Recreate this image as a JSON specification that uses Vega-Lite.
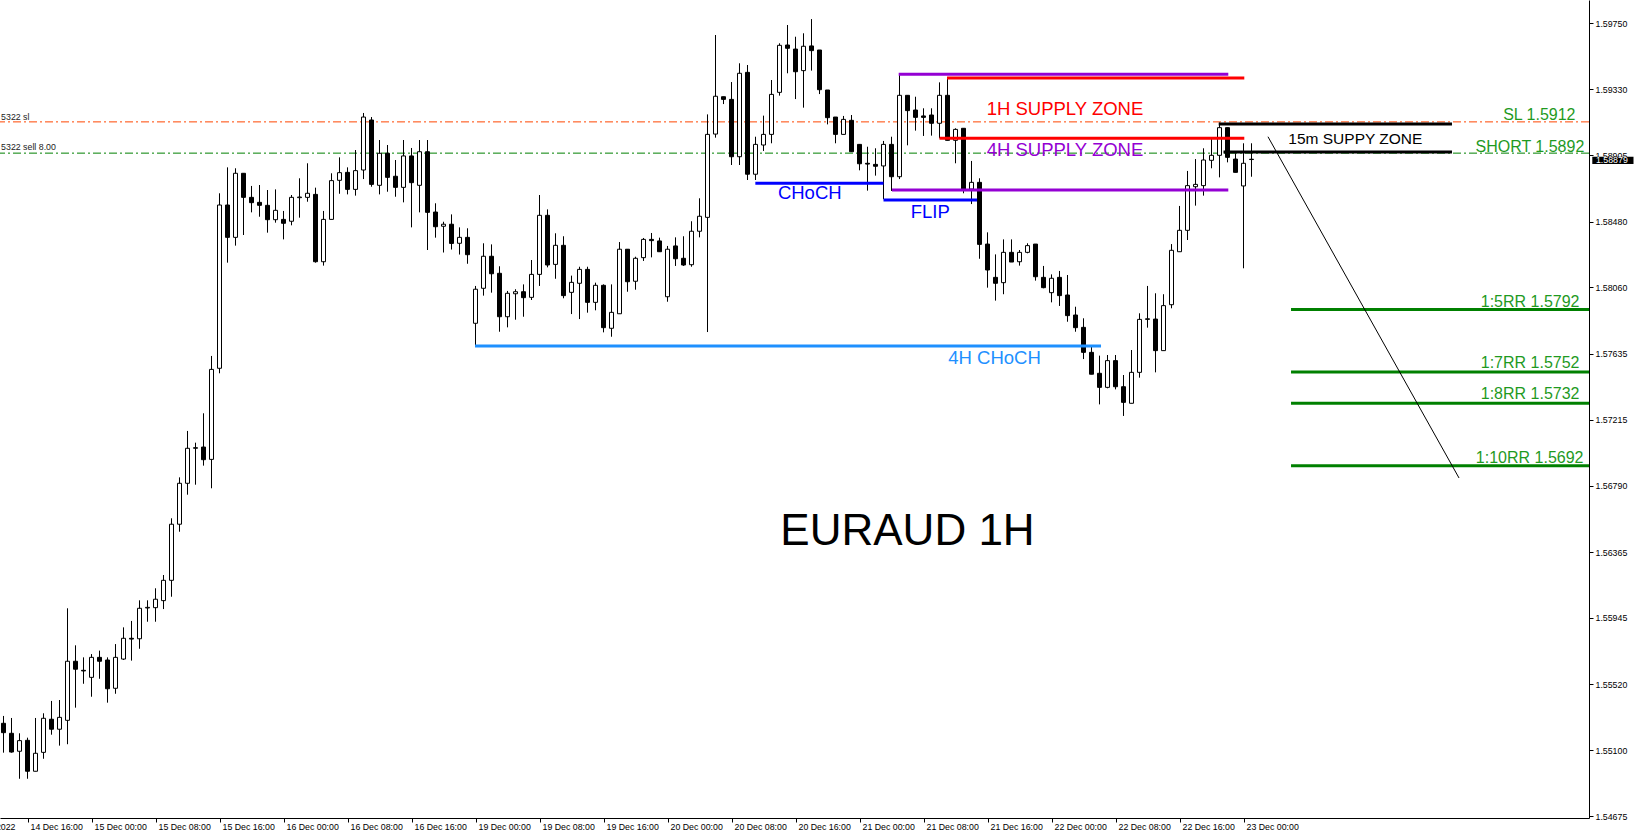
{
  "$schema": "https://vega.github.io/schema/vega-lite/v6.json",
  "width": 1589,
  "height": 818,
  "autosize": {"type": "none"},
  "padding": {"left": 0, "top": 0, "right": 47, "bottom": 21},
  "background": "white",
  "config": {"view": {"stroke": null}, "axis": {"grid": false}},
  "datasets": {
    "candles": [
      {"i":-3,"o":1.55271,"h":1.55318,"l":1.55083,"c":1.55211},
      {"i":-2,"o":1.55207,"h":1.55305,"l":1.55083,"c":1.55087},
      {"i":-1,"o":1.55092,"h":1.55207,"l":1.54916,"c":1.55160},
      {"i":0,"o":1.55162,"h":1.55179,"l":1.54916,"c":1.54964},
      {"i":1,"o":1.54964,"h":1.55305,"l":1.54964,"c":1.55079},
      {"i":2,"o":1.55085,"h":1.55335,"l":1.55044,"c":1.55303},
      {"i":3,"o":1.55297,"h":1.55414,"l":1.55198,"c":1.55233},
      {"i":4,"o":1.55233,"h":1.55420,"l":1.55128,"c":1.55309},
      {"i":5,"o":1.55290,"h":1.56007,"l":1.55137,"c":1.55668},
      {"i":6,"o":1.55668,"h":1.55770,"l":1.55371,"c":1.55617},
      {"i":7,"o":1.55610,"h":1.55693,"l":1.55524,"c":1.55606},
      {"i":8,"o":1.55565,"h":1.55714,"l":1.55441,"c":1.55693},
      {"i":9,"o":1.55693,"h":1.55736,"l":1.55556,"c":1.55668},
      {"i":10,"o":1.55676,"h":1.55693,"l":1.55403,"c":1.55492},
      {"i":11,"o":1.55495,"h":1.55778,"l":1.55460,"c":1.55693},
      {"i":12,"o":1.55682,"h":1.55885,"l":1.55676,"c":1.55815},
      {"i":13,"o":1.55815,"h":1.55926,"l":1.55672,"c":1.55810},
      {"i":14,"o":1.55812,"h":1.56058,"l":1.55748,"c":1.56007},
      {"i":15,"o":1.56009,"h":1.56058,"l":1.55921,"c":1.56013},
      {"i":16,"o":1.56011,"h":1.56135,"l":1.55921,"c":1.56065},
      {"i":17,"o":1.56056,"h":1.56220,"l":1.56002,"c":1.56186},
      {"i":18,"o":1.56186,"h":1.56583,"l":1.56081,"c":1.56545},
      {"i":19,"o":1.56545,"h":1.56845,"l":1.56497,"c":1.56807},
      {"i":20,"o":1.56807,"h":1.57142,"l":1.56734,"c":1.57031},
      {"i":21,"o":1.57031,"h":1.57067,"l":1.56798,"c":1.57035},
      {"i":22,"o":1.57039,"h":1.57255,"l":1.56920,"c":1.56958},
      {"i":23,"o":1.56960,"h":1.57622,"l":1.56775,"c":1.57536},
      {"i":24,"o":1.57543,"h":1.58663,"l":1.57511,"c":1.58588},
      {"i":25,"o":1.58588,"h":1.58829,"l":1.58219,"c":1.58381},
      {"i":26,"o":1.58381,"h":1.58823,"l":1.58328,"c":1.58791},
      {"i":27,"o":1.58791,"h":1.58791,"l":1.58396,"c":1.58637},
      {"i":28,"o":1.58637,"h":1.58710,"l":1.58541,"c":1.58603},
      {"i":29,"o":1.58605,"h":1.58716,"l":1.58513,"c":1.58586},
      {"i":30,"o":1.58586,"h":1.58684,"l":1.58411,"c":1.58494},
      {"i":31,"o":1.58494,"h":1.58688,"l":1.58475,"c":1.58554},
      {"i":32,"o":1.58496,"h":1.58550,"l":1.58368,"c":1.58471},
      {"i":33,"o":1.58484,"h":1.58652,"l":1.58458,"c":1.58637},
      {"i":34,"o":1.58635,"h":1.58759,"l":1.58507,"c":1.58639},
      {"i":35,"o":1.58637,"h":1.58855,"l":1.58609,"c":1.58663},
      {"i":36,"o":1.58656,"h":1.58699,"l":1.58219,"c":1.58225},
      {"i":37,"o":1.58225,"h":1.58550,"l":1.58200,"c":1.58496},
      {"i":38,"o":1.58496,"h":1.58791,"l":1.58496,"c":1.58744},
      {"i":39,"o":1.58746,"h":1.58893,"l":1.58660,"c":1.58795},
      {"i":40,"o":1.58797,"h":1.58829,"l":1.58656,"c":1.58688},
      {"i":41,"o":1.58688,"h":1.58940,"l":1.58648,"c":1.58808},
      {"i":42,"o":1.58812,"h":1.59177,"l":1.58754,"c":1.59151},
      {"i":43,"o":1.59132,"h":1.59151,"l":1.58705,"c":1.58720},
      {"i":44,"o":1.58714,"h":1.59004,"l":1.58656,"c":1.58919},
      {"i":45,"o":1.58919,"h":1.58972,"l":1.58673,"c":1.58765},
      {"i":46,"o":1.58772,"h":1.58876,"l":1.58641,"c":1.58701},
      {"i":47,"o":1.58701,"h":1.59004,"l":1.58605,"c":1.58902},
      {"i":48,"o":1.58902,"h":1.58953,"l":1.58445,"c":1.58731},
      {"i":49,"o":1.58714,"h":1.59004,"l":1.58541,"c":1.58929},
      {"i":50,"o":1.58929,"h":1.59004,"l":1.58300,"c":1.58541},
      {"i":51,"o":1.58543,"h":1.58599,"l":1.58379,"c":1.58449},
      {"i":52,"o":1.58452,"h":1.58481,"l":1.58284,"c":1.58465},
      {"i":53,"o":1.58465,"h":1.58528,"l":1.58303,"c":1.58342},
      {"i":54,"o":1.58343,"h":1.58445,"l":1.58271,"c":1.58381},
      {"i":55,"o":1.58381,"h":1.58439,"l":1.58212,"c":1.58270},
      {"i":56,"o":1.57831,"h":1.58070,"l":1.57681,"c":1.58049},
      {"i":57,"o":1.58055,"h":1.58343,"l":1.58008,"c":1.58260},
      {"i":58,"o":1.58260,"h":1.58336,"l":1.58027,"c":1.58148},
      {"i":59,"o":1.58151,"h":1.58196,"l":1.57777,"c":1.57873},
      {"i":60,"o":1.57873,"h":1.58038,"l":1.57805,"c":1.58023},
      {"i":61,"o":1.58020,"h":1.58049,"l":1.57854,"c":1.58033},
      {"i":62,"o":1.58033,"h":1.58080,"l":1.57873,"c":1.57995},
      {"i":63,"o":1.57997,"h":1.58236,"l":1.57980,"c":1.58144},
      {"i":64,"o":1.58144,"h":1.58652,"l":1.58070,"c":1.58522},
      {"i":65,"o":1.58522,"h":1.58560,"l":1.58189,"c":1.58204},
      {"i":66,"o":1.58208,"h":1.58407,"l":1.58116,"c":1.58330},
      {"i":67,"o":1.58330,"h":1.58388,"l":1.57991,"c":1.58008},
      {"i":68,"o":1.58029,"h":1.58136,"l":1.57890,"c":1.58093},
      {"i":69,"o":1.58087,"h":1.58193,"l":1.57858,"c":1.58176},
      {"i":70,"o":1.58176,"h":1.58193,"l":1.57899,"c":1.57965},
      {"i":71,"o":1.57965,"h":1.58091,"l":1.57914,"c":1.58074},
      {"i":72,"o":1.58074,"h":1.58080,"l":1.57773,"c":1.57803},
      {"i":73,"o":1.57799,"h":1.58080,"l":1.57745,"c":1.57901},
      {"i":74,"o":1.57892,"h":1.58351,"l":1.57892,"c":1.58305},
      {"i":75,"o":1.58305,"h":1.58305,"l":1.58033,"c":1.58097},
      {"i":76,"o":1.58100,"h":1.58257,"l":1.58046,"c":1.58247},
      {"i":77,"o":1.58251,"h":1.58377,"l":1.58230,"c":1.58368},
      {"i":78,"o":1.58368,"h":1.58409,"l":1.58253,"c":1.58360},
      {"i":79,"o":1.58358,"h":1.58379,"l":1.58289,"c":1.58289},
      {"i":80,"o":1.58001,"h":1.58326,"l":1.57969,"c":1.58305},
      {"i":81,"o":1.58326,"h":1.58381,"l":1.58198,"c":1.58244},
      {"i":82,"o":1.58247,"h":1.58388,"l":1.58198,"c":1.58204},
      {"i":83,"o":1.58206,"h":1.58484,"l":1.58193,"c":1.58420},
      {"i":84,"o":1.58420,"h":1.58631,"l":1.58381,"c":1.58516},
      {"i":85,"o":1.58509,"h":1.59168,"l":1.57775,"c":1.59040},
      {"i":86,"o":1.59042,"h":1.59676,"l":1.59019,"c":1.59284},
      {"i":87,"o":1.59281,"h":1.59281,"l":1.59234,"c":1.59264},
      {"i":88,"o":1.59264,"h":1.59375,"l":1.58844,"c":1.58897},
      {"i":89,"o":1.58897,"h":1.59495,"l":1.58844,"c":1.59431},
      {"i":90,"o":1.59437,"h":1.59484,"l":1.58748,"c":1.58785},
      {"i":91,"o":1.58785,"h":1.59025,"l":1.58748,"c":1.58976},
      {"i":92,"o":1.58972,"h":1.59160,"l":1.58934,"c":1.59040},
      {"i":93,"o":1.59040,"h":1.59388,"l":1.58983,"c":1.59296},
      {"i":94,"o":1.59309,"h":1.59623,"l":1.59288,"c":1.59610},
      {"i":95,"o":1.59612,"h":1.59740,"l":1.59431,"c":1.59591},
      {"i":96,"o":1.59586,"h":1.59665,"l":1.59266,"c":1.59441},
      {"i":97,"o":1.59448,"h":1.59687,"l":1.59211,"c":1.59604},
      {"i":98,"o":1.59606,"h":1.59778,"l":1.59448,"c":1.59576},
      {"i":99,"o":1.59580,"h":1.59580,"l":1.59298,"c":1.59326},
      {"i":100,"o":1.59324,"h":1.59324,"l":1.59104,"c":1.59147},
      {"i":101,"o":1.59151,"h":1.59151,"l":1.58983,"c":1.59040},
      {"i":102,"o":1.59040,"h":1.59158,"l":1.59040,"c":1.59136},
      {"i":103,"o":1.59130,"h":1.59164,"l":1.58929,"c":1.58929},
      {"i":104,"o":1.58976,"h":1.58976,"l":1.58810,"c":1.58852},
      {"i":105,"o":1.58855,"h":1.58961,"l":1.58680,"c":1.58850},
      {"i":106,"o":1.58848,"h":1.58951,"l":1.58776,"c":1.58836},
      {"i":107,"o":1.58838,"h":1.58998,"l":1.58625,"c":1.58976},
      {"i":108,"o":1.58976,"h":1.59025,"l":1.58678,"c":1.58769},
      {"i":109,"o":1.58769,"h":1.59425,"l":1.58754,"c":1.59290},
      {"i":110,"o":1.59290,"h":1.59290,"l":1.58970,"c":1.59192},
      {"i":111,"o":1.59196,"h":1.59281,"l":1.59064,"c":1.59149},
      {"i":112,"o":1.59158,"h":1.59207,"l":1.59030,"c":1.59149},
      {"i":113,"o":1.59164,"h":1.59207,"l":1.59032,"c":1.59111},
      {"i":114,"o":1.59111,"h":1.59373,"l":1.59015,"c":1.59290},
      {"i":115,"o":1.59290,"h":1.59403,"l":1.59002,"c":1.59002},
      {"i":116,"o":1.59002,"h":1.59079,"l":1.58855,"c":1.59072},
      {"i":117,"o":1.59079,"h":1.59079,"l":1.58663,"c":1.58690},
      {"i":118,"o":1.58690,"h":1.58870,"l":1.58594,"c":1.58733},
      {"i":119,"o":1.58733,"h":1.58759,"l":1.58244,"c":1.58336},
      {"i":120,"o":1.58338,"h":1.58413,"l":1.58059,"c":1.58172},
      {"i":121,"o":1.58125,"h":1.58272,"l":1.57976,"c":1.58087},
      {"i":122,"o":1.58091,"h":1.58368,"l":1.58017,"c":1.58285},
      {"i":123,"o":1.58285,"h":1.58368,"l":1.58223,"c":1.58223},
      {"i":124,"o":1.58225,"h":1.58300,"l":1.58200,"c":1.58285},
      {"i":125,"o":1.58285,"h":1.58343,"l":1.58279,"c":1.58328},
      {"i":126,"o":1.58338,"h":1.58338,"l":1.58104,"c":1.58129},
      {"i":127,"o":1.58125,"h":1.58198,"l":1.58055,"c":1.58059},
      {"i":128,"o":1.58027,"h":1.58144,"l":1.57965,"c":1.58119},
      {"i":129,"o":1.58125,"h":1.58166,"l":1.57942,"c":1.58008},
      {"i":130,"o":1.58012,"h":1.58140,"l":1.57841,"c":1.57880},
      {"i":131,"o":1.57884,"h":1.57937,"l":1.57777,"c":1.57803},
      {"i":132,"o":1.57805,"h":1.57863,"l":1.57602,"c":1.57645},
      {"i":133,"o":1.57645,"h":1.57688,"l":1.57505,"c":1.57505},
      {"i":134,"o":1.57511,"h":1.57624,"l":1.57312,"c":1.57421},
      {"i":135,"o":1.57421,"h":1.57628,"l":1.57415,"c":1.57592},
      {"i":136,"o":1.57592,"h":1.57628,"l":1.57408,"c":1.57425},
      {"i":137,"o":1.57425,"h":1.57500,"l":1.57238,"c":1.57325},
      {"i":138,"o":1.57319,"h":1.57660,"l":1.57319,"c":1.57517},
      {"i":139,"o":1.57517,"h":1.57895,"l":1.57483,"c":1.57856},
      {"i":140,"o":1.57856,"h":1.58070,"l":1.57803,"c":1.57860},
      {"i":141,"o":1.57858,"h":1.58023,"l":1.57517,"c":1.57656},
      {"i":142,"o":1.57656,"h":1.58017,"l":1.57656,"c":1.57944},
      {"i":143,"o":1.57950,"h":1.58338,"l":1.57927,"c":1.58298},
      {"i":144,"o":1.58289,"h":1.58582,"l":1.58289,"c":1.58426},
      {"i":145,"o":1.58426,"h":1.58806,"l":1.58364,"c":1.58712},
      {"i":146,"o":1.58705,"h":1.58882,"l":1.58584,"c":1.58720},
      {"i":147,"o":1.58712,"h":1.58951,"l":1.58648,"c":1.58876},
      {"i":148,"o":1.58874,"h":1.59010,"l":1.58823,"c":1.58906},
      {"i":149,"o":1.58906,"h":1.59115,"l":1.58765,"c":1.59083},
      {"i":150,"o":1.59083,"h":1.59083,"l":1.58861,"c":1.58893},
      {"i":151,"o":1.58882,"h":1.58919,"l":1.58797,"c":1.58797},
      {"i":152,"o":1.58710,"h":1.58983,"l":1.58183,"c":1.58855},
      {"i":153,"o":1.58881,"h":1.58983,"l":1.58769,"c":1.58879}
    ],
    "segs": [
      {"k":"red","a":114.94,"b":152.1,"p":1.59401},
      {"k":"red","a":114.0,"b":152.1,"p":1.59015},
      {"k":"purple","a":108.9,"b":150.1,"p":1.59425},
      {"k":"purple","a":108.06,"b":150.1,"p":1.58684},
      {"k":"blue","a":90.98,"b":107.0,"p":1.58727},
      {"k":"blue","a":107.0,"b":118.7,"p":1.5862},
      {"k":"dodger","a":55.94,"b":134.19,"p":1.57686},
      {"k":"black","a":148.9,"b":178.06,"p":1.59106},
      {"k":"black","a":149.5,"b":178.06,"p":1.58927},
      {"k":"green","a":157.94,"b":195.19,"p":1.5792},
      {"k":"green","a":157.94,"b":195.19,"p":1.5752},
      {"k":"green","a":157.94,"b":195.19,"p":1.5732},
      {"k":"green","a":157.94,"b":195.19,"p":1.5692}
    ],
    "zoneLabels": [
      {"k":"red","i":119.9,"p":1.59202,"t":"1H SUPPLY ZONE"},
      {"k":"purple","i":119.9,"p":1.58938,"t":"4H SUPPLY ZONE"},
      {"k":"blue","i":93.8,"p":1.58665,"t":"CHoCH"},
      {"k":"blue","i":110.4,"p":1.58545,"t":"FLIP"},
      {"k":"dodger","i":115.1,"p":1.57606,"t":"4H CHoCH"}
    ],
    "greenLabels": [
      {"i":193.5,"p":1.59132,"t":"SL 1.5912"},
      {"i":194.6,"p":1.58929,"t":"SHORT 1.5892"},
      {"i":194.0,"p":1.57935,"t":"1:5RR 1.5792"},
      {"i":194.0,"p":1.57543,"t":"1:7RR 1.5752"},
      {"i":194.0,"p":1.57344,"t":"1:8RR 1.5732"},
      {"i":194.5,"p":1.56939,"t":"1:10RR 1.5692"}
    ]
  },
  "layer": [
    {
      "data": {"values": [{"p": 1.5912}]},
      "mark": {"type": "rule", "color": "#FF4500", "strokeWidth": 1, "strokeDash": [8, 3, 2, 3]},
      "encoding": {"y": {"field": "p", "type": "quantitative", "scale": {"domain": [1.546648, 1.599], "nice": false, "zero": false, "padding": 0}}}
    },
    {
      "data": {"values": [{"p": 1.5892}]},
      "mark": {"type": "rule", "color": "#008000", "strokeWidth": 1, "strokeDash": [8, 3, 2, 3]},
      "encoding": {"y": {"field": "p", "type": "quantitative"}}
    },
    {
      "data": {"name": "candles"},
      "mark": {"type": "rule", "color": "black", "strokeWidth": 1},
      "encoding": {
        "x": {"field": "i", "type": "quantitative",
          "scale": {"domain": [-3.4375, 195.1875], "nice": false, "zero": false, "padding": 0},
          "axis": {"orient": "bottom", "values": [0,8,16,24,32,40,48,56,64,72,80,88,96,104,112,120,128,136,144,152],
            "labelExpr": "['14 Dec 16:00','15 Dec 00:00','15 Dec 08:00','15 Dec 16:00','16 Dec 00:00','16 Dec 08:00','16 Dec 16:00','19 Dec 00:00','19 Dec 08:00','19 Dec 16:00','20 Dec 00:00','20 Dec 08:00','20 Dec 16:00','21 Dec 00:00','21 Dec 08:00','21 Dec 16:00','22 Dec 00:00','22 Dec 08:00','22 Dec 16:00','23 Dec 00:00'][round(datum.value/8)]",
            "labelAlign": "left", "labelBaseline": "top", "labelOffset": 2.5, "labelPadding": 0,
            "tickSize": 4, "tickColor": "black", "domainColor": "black", "domainWidth": 1,
            "labelFont": "Liberation Sans", "labelFontSize": 8.8, "labelColor": "black",
            "title": null, "grid": false, "labelOverlap": false, "labelFlush": false, "labelBound": false}},
        "y": {"field": "l", "type": "quantitative",
          "axis": {"orient": "right", "values": [1.5975,1.5954,1.5933,1.59115,1.58905,1.58695,1.5848,1.5827,1.5806,1.57845,1.57635,1.57425,1.57215,1.57,1.5679,1.5658,1.56365,1.56155,1.55945,1.55735,1.5552,1.5531,1.551,1.54885,1.54675],
            "format": ".5f", "tickSize": 4, "tickColor": "black", "domainColor": "black", "domainWidth": 1,
            "labelFont": "Liberation Sans", "labelFontSize": 8.8, "labelColor": "black", "labelPadding": 2,
            "title": null, "grid": false, "labelOverlap": false, "labelFlush": false, "labelBound": false}},
        "y2": {"field": "h"}
      }
    },
    {
      "data": {"name": "candles"},
      "mark": {"type": "bar", "size": 4, "stroke": "black", "strokeWidth": 1},
      "encoding": {
        "x": {"field": "i", "type": "quantitative"},
        "y": {"field": "o", "type": "quantitative"},
        "y2": {"field": "c"},
        "fill": {"condition": {"test": "datum.c > datum.o", "value": "white"}, "value": "black"}
      }
    },
    {
      "data": {"name": "segs"},
      "mark": {"type": "rule", "strokeWidth": 3},
      "encoding": {
        "x": {"field": "a", "type": "quantitative"},
        "x2": {"field": "b"},
        "y": {"field": "p", "type": "quantitative"},
        "color": {"field": "k", "type": "nominal", "legend": null,
          "scale": {"domain": ["red","purple","blue","dodger","black","green"], "range": ["#FF0000","#9400D3","#0000FF","#1E90FF","#000000","#008000"]}}
      }
    },
    {
      "data": {"values": [{"a": 155.06, "b": 178.94, "p1": 1.59025, "p2": 1.56841}]},
      "mark": {"type": "rule", "color": "black", "strokeWidth": 1},
      "encoding": {
        "x": {"field": "a", "type": "quantitative"},
        "x2": {"field": "b"},
        "y": {"field": "p1", "type": "quantitative"},
        "y2": {"field": "p2"}
      }
    },
    {
      "data": {"name": "zoneLabels"},
      "mark": {"type": "text", "font": "Liberation Sans", "fontSize": 18.5, "align": "left", "baseline": "middle"},
      "encoding": {
        "x": {"field": "i", "type": "quantitative"},
        "y": {"field": "p", "type": "quantitative"},
        "text": {"field": "t"},
        "color": {"field": "k", "type": "nominal", "legend": null,
          "scale": {"domain": ["red","purple","blue","dodger","black","green"], "range": ["#FF0000","#9400D3","#0000FF","#1E90FF","#000000","#008000"]}}
      }
    },
    {
      "data": {"name": "greenLabels"},
      "mark": {"type": "text", "font": "Liberation Sans", "fontSize": 16, "align": "right", "baseline": "alphabetic", "color": "#1f9a1f"},
      "encoding": {
        "x": {"field": "i", "type": "quantitative"},
        "y": {"field": "p", "type": "quantitative"},
        "text": {"field": "t"}
      }
    },
    {
      "data": {"values": [{"i": 157.6, "p": 1.5901, "t": "15m SUPPY ZONE"}]},
      "mark": {"type": "text", "font": "Liberation Sans", "fontSize": 15.5, "align": "left", "baseline": "middle", "color": "black"},
      "encoding": {
        "x": {"field": "i", "type": "quantitative"},
        "y": {"field": "p", "type": "quantitative"},
        "text": {"field": "t"}
      }
    },
    {
      "data": {"values": [{"i": 110.0, "p": 1.56495, "t": "EURAUD 1H"}]},
      "mark": {"type": "text", "font": "Liberation Sans", "fontSize": 44, "align": "center", "baseline": "middle", "color": "black"},
      "encoding": {
        "x": {"field": "i", "type": "quantitative"},
        "y": {"field": "p", "type": "quantitative"},
        "text": {"field": "t"}
      }
    },
    {
      "data": {"values": [{"i": -3.3, "p": 1.59151, "t": "5322 sl"}, {"i": -3.3, "p": 1.58961, "t": "5322 sell 8.00"}]},
      "mark": {"type": "text", "font": "Liberation Sans", "fontSize": 8.8, "align": "left", "baseline": "middle", "color": "#222222"},
      "encoding": {
        "x": {"field": "i", "type": "quantitative"},
        "y": {"field": "p", "type": "quantitative"},
        "text": {"field": "t"}
      }
    },
    {
      "data": {"values": [{"i": -1.5, "p": 1.5461, "t": "14 Dec 2022"}]},
      "mark": {"type": "text", "font": "Liberation Sans", "fontSize": 8.8, "align": "right", "baseline": "middle", "color": "black"},
      "encoding": {
        "x": {"field": "i", "type": "quantitative"},
        "y": {"field": "p", "type": "quantitative"},
        "text": {"field": "t"}
      }
    },
    {
      "data": {"values": [{"a": 195.6, "b": 200.75, "p1": 1.58897, "p2": 1.5885}]},
      "mark": {"type": "rect", "color": "black"},
      "encoding": {
        "x": {"field": "a", "type": "quantitative"},
        "x2": {"field": "b"},
        "y": {"field": "p1", "type": "quantitative"},
        "y2": {"field": "p2"}
      }
    },
    {
      "data": {"values": [{"i": 196.06, "p": 1.58874, "t": "1.58879"}]},
      "mark": {"type": "text", "font": "Liberation Sans", "fontSize": 8.8, "align": "left", "baseline": "middle", "color": "white"},
      "encoding": {
        "x": {"field": "i", "type": "quantitative"},
        "y": {"field": "p", "type": "quantitative"},
        "text": {"field": "t"}
      }
    }
  ]
}
